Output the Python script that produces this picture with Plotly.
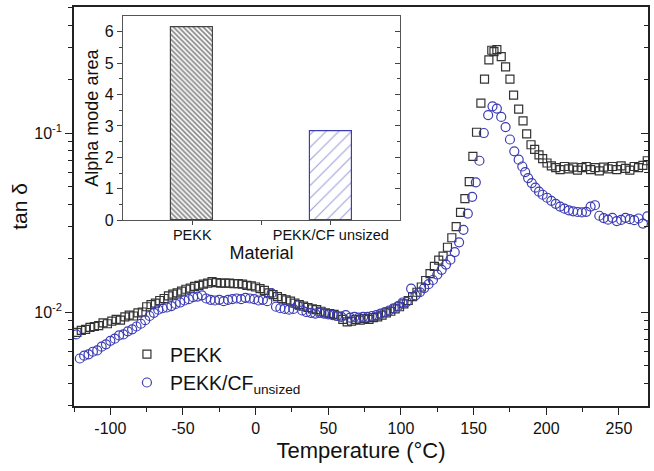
import plotly.graph_objects as go

# ---------------- data ----------------
pekk_temp = [-123, -120, -117, -114, -111, -108, -105, -102, -99, -96, -93, -90, -87, -84, -81, -78,
             -75, -72, -69, -66, -63, -60, -57, -54, -51, -48, -45, -42, -39, -36, -33, -30, -27,
             -24, -21, -18, -15, -12, -9, -6, -3, 0, 3, 6, 9, 12, 15, 18, 21, 24, 27, 30, 33, 36,
             39, 42, 45, 48, 51, 54, 57, 60, 63, 66, 69, 72, 75, 78, 81, 84, 87, 90, 93, 96, 99,
             102, 105, 108, 111, 114, 117, 120, 123, 126, 129, 132, 135, 138, 141, 144, 147,
             149.5, 152, 155, 157.5, 160.5, 162.5, 164, 166, 169, 172, 175, 177.5, 181, 184, 186.5,
             189.5, 192, 195, 197.5, 200.5, 203.5, 206.5, 209.5, 212.5, 215.5, 218.5, 221.5, 224.5,
             227.5, 230.5, 233.5, 236.5, 239.5, 242.5, 245.5, 248.5, 251.5, 254.5, 257.5, 260.5,
             263.5, 266.5, 269.5]
pekk_tan = [0.0077, 0.0079, 0.0080, 0.0082, 0.0083, 0.0084, 0.0087, 0.0086, 0.0089, 0.0091, 0.0090,
            0.0094, 0.0096, 0.0095, 0.0099, 0.0100, 0.0107, 0.0110, 0.0112, 0.0116, 0.0119, 0.0123,
            0.0126, 0.0128, 0.0131, 0.0134, 0.0136, 0.0139, 0.0141, 0.0143, 0.0145, 0.0148, 0.0146,
            0.0145, 0.0145, 0.0145, 0.0144, 0.0144, 0.0143, 0.0141, 0.0140, 0.0138, 0.0135, 0.0132,
            0.0128, 0.0125, 0.0122, 0.0119, 0.0117, 0.0115, 0.0112, 0.0110, 0.0108, 0.0106, 0.0104,
            0.0103, 0.0101, 0.0099, 0.0098, 0.0097, 0.0095, 0.0091, 0.0088, 0.0089, 0.0091, 0.0090,
            0.0092, 0.0091, 0.0093, 0.0094, 0.0096, 0.0099, 0.0101, 0.0104, 0.0107, 0.0111, 0.0116,
            0.0122, 0.0129, 0.0138, 0.0150, 0.0164, 0.0180, 0.0195, 0.0205, 0.0230, 0.0260, 0.0300,
            0.0360, 0.0430, 0.0535,
            0.0740, 0.1010, 0.1470, 0.2000, 0.2560, 0.2900, 0.2850, 0.2920, 0.2670, 0.2340, 0.2000,
            0.1630, 0.1360, 0.1170, 0.0990, 0.0860, 0.0810, 0.0755, 0.0720, 0.0680, 0.0655, 0.0640,
            0.0625, 0.0650, 0.0630, 0.0645, 0.0620, 0.0640, 0.0650, 0.0625, 0.0640, 0.0615, 0.0645,
            0.0630, 0.0650, 0.0625, 0.0655, 0.0635, 0.0620, 0.0650, 0.0640, 0.0660, 0.0700]

cf_temp = [-123.5, -121, -118, -115, -112, -109, -106, -103, -100, -97, -94, -91, -88, -85, -82,
           -79, -76, -73, -70, -67, -64, -61, -58, -55, -52, -49, -46, -43, -40, -37, -34, -31,
           -28, -25, -22, -19, -16, -13, -10, -7, -4, -1, 2, 5, 8, 11, 14, 17, 20, 23, 26, 29, 32,
           35, 38, 41, 44, 47, 50, 53, 56, 59, 62, 65, 68, 71, 74, 77, 80, 83, 86, 89, 92, 95, 98,
           101, 104, 107, 110, 113, 116, 119, 122, 125, 128, 131, 134, 137, 140, 143, 146, 149,
           151.5, 154, 157, 160, 163, 166, 169, 172, 175, 178, 181, 183.5, 185.5, 187.5, 190,
           192.5, 195, 197.5, 200.5, 203.5, 206.5, 209.5, 212.5, 215.5, 218.5, 221.5, 224.5,
           227.5, 230.5, 233.5, 236.5, 239.5, 242.5, 245.5, 248.5, 251.5, 254.5, 257.5, 260.5,
           263.5, 266.5, 269.5]
cf_tan = [0.0075, 0.0055, 0.0057, 0.0058, 0.0060, 0.0061, 0.0064, 0.0066, 0.0069, 0.0071, 0.0074,
          0.0075, 0.0078, 0.0080, 0.0083, 0.0086, 0.0090, 0.0095, 0.0099, 0.0103, 0.0105, 0.0106,
          0.0108, 0.0111, 0.0113, 0.0116, 0.0118, 0.0121, 0.0122, 0.0124, 0.0119, 0.0117, 0.0116,
          0.0117, 0.0115, 0.0117, 0.0118, 0.0119, 0.0118, 0.0120, 0.0119, 0.0118, 0.0116, 0.0117,
          0.0115, 0.0127, 0.0107, 0.0105, 0.0104, 0.0103, 0.0104, 0.0109, 0.0102, 0.0100, 0.0099,
          0.0098, 0.0099, 0.0098, 0.0097, 0.0096, 0.0095, 0.0094, 0.0096, 0.0093, 0.0094, 0.0093,
          0.0094, 0.0094, 0.0095, 0.0096, 0.0098, 0.0100, 0.0102, 0.0105, 0.0108, 0.0113, 0.0114,
          0.0135, 0.0124, 0.0129, 0.0136, 0.0143, 0.0151, 0.0162, 0.0172, 0.0184, 0.0196, 0.0216,
          0.0245, 0.0288, 0.0355, 0.0440, 0.0530, 0.0700, 0.1000, 0.1260, 0.1410, 0.1370, 0.1230,
          0.1080, 0.0920, 0.0790, 0.0710, 0.0650, 0.0605, 0.0560, 0.0525, 0.0495, 0.0470, 0.0452,
          0.0435, 0.0418, 0.0402, 0.0388, 0.0378, 0.0370, 0.0365, 0.0362, 0.0360, 0.0363, 0.0388,
          0.0395, 0.0345, 0.0335, 0.0328, 0.0336, 0.0322, 0.0327, 0.0336, 0.0330, 0.0326, 0.0333,
          0.0312, 0.0342]

materials = ["PEKK", "PEKK/CF unsized"]
alpha_area = [6.14, 2.82]

x_ticks = [-100, -50, 0, 50, 100, 150, 200, 250]
x_tick_text = ["-100", "-50", "0", "50", "100", "150", "200", "250"]
y_major = [0.01, 0.1]
y_major_text = ["10<sup>-2</sup>", "10<sup>-1</sup>"]
y_minor = [0.003, 0.004, 0.005, 0.006, 0.007, 0.008, 0.009,
           0.02, 0.03, 0.04, 0.05, 0.06, 0.07, 0.08, 0.09,
           0.2, 0.3, 0.4, 0.5]

# ---------------- style ----------------
FONT = "Liberation Sans, Arial, sans-serif"
BLUE = "#3c3cb4"
DARK = "#333333"
AX = "#222222"

fig = go.Figure()

fig.add_trace(go.Scatter(
    x=pekk_temp, y=pekk_tan, mode="markers", name="PEKK",
    marker=dict(symbol="square-open", size=8, color=DARK, line=dict(width=1.2, color=DARK)),
    xaxis="x", yaxis="y"))
fig.add_trace(go.Scatter(
    x=cf_temp, y=cf_tan, mode="markers", name="PEKK/CF<sub>unsized</sub>",
    marker=dict(symbol="circle-open", size=9, color=BLUE, line=dict(width=1.2, color=BLUE)),
    xaxis="x", yaxis="y"))

# inset bars
fig.add_trace(go.Bar(
    x=[0], y=[alpha_area[0]], width=0.3, showlegend=False,
    marker=dict(color="white", line=dict(color="#444444", width=1.2),
                pattern=dict(shape="\\", fgcolor="#111111", bgcolor="white", size=3.5, solidity=0.5)),
    xaxis="x2", yaxis="y3"))
fig.add_trace(go.Bar(
    x=[1], y=[alpha_area[1]], width=0.3, showlegend=False,
    marker=dict(color="white", line=dict(color=BLUE, width=1.2),
                pattern=dict(shape="/", fgcolor=BLUE, bgcolor="white", size=9, solidity=0.12)),
    xaxis="x2", yaxis="y3"))

# invisible anchors for right-side tick axes
fig.add_trace(go.Scatter(x=[None], y=[None], showlegend=False, hoverinfo="skip", xaxis="x", yaxis="y2"))
fig.add_trace(go.Scatter(x=[None], y=[None], showlegend=False, hoverinfo="skip", xaxis="x2", yaxis="y4"))

YR = [-2.525, -0.296]
inset_x = [0.0854, 0.568]
inset_y = [0.466, 0.977]

fig.update_layout(
    width=654, height=471,
    margin=dict(l=74, r=6, t=7, b=65, autoexpand=False),
    paper_bgcolor="white", plot_bgcolor="white",
    font=dict(family=FONT, size=16, color="#111111"),
    bargap=0,
    xaxis=dict(
        domain=[0, 1], range=[-125, 270], tickmode="array", tickvals=x_ticks, ticktext=x_tick_text,
        ticks="outside", ticklen=7, tickwidth=1.3, tickcolor=AX,
        minor=dict(tickmode="array", tickvals=[-125, -75, -25, 25, 75, 125, 175, 225],
                   ticks="outside", ticklen=4, tickwidth=1.2, tickcolor=AX),
        showline=True, linecolor=AX, linewidth=1.6, mirror=True,
        showgrid=False, zeroline=False, automargin=False,
        tickfont=dict(size=16),
        title=dict(text="Temperature (°C)", font=dict(size=22), standoff=7)),
    yaxis=dict(
        type="log", range=YR, tickmode="array", tickvals=y_major, ticktext=y_major_text,
        ticks="outside", ticklen=7, tickwidth=1.3, tickcolor=AX,
        minor=dict(tickmode="array", tickvals=y_minor, ticks="outside", ticklen=4,
                   tickwidth=1.2, tickcolor=AX),
        showline=True, linecolor=AX, linewidth=1.6, mirror=True,
        showgrid=False, zeroline=False, automargin=False, tickfont=dict(size=16),
        title=dict(text="tan δ", font=dict(size=21), standoff=1)),
    yaxis2=dict(
        type="log", range=YR, overlaying="y", side="right", anchor="x",
        tickmode="array", tickvals=y_major, showticklabels=False,
        ticks="inside", ticklen=7, tickwidth=1.3, tickcolor=AX,
        minor=dict(tickmode="array", tickvals=y_minor, ticks="inside", ticklen=4,
                   tickwidth=1.2, tickcolor=AX),
        showline=False, showgrid=False, zeroline=False, automargin=False),
    xaxis2=dict(
        domain=inset_x, anchor="y3", range=[-0.5, 1.5], tickmode="array",
        tickvals=[0, 1], ticktext=materials, ticks="outside", ticklen=4, tickwidth=1.2,
        tickcolor="#444444", ticklabelstandoff=-3,
        minor=dict(tickmode="array", tickvals=[0.5], ticks="outside", ticklen=4,
                   tickwidth=1.2, tickcolor="#444444"),
        showline=True, linecolor="#555555", linewidth=1.3, mirror=True,
        showgrid=False, zeroline=False, automargin=False, tickfont=dict(size=14.5),
        title=dict(text="Material", font=dict(size=18), standoff=0)),
    yaxis3=dict(
        domain=inset_y, anchor="x2", range=[0, 6.5], tickmode="array",
        tickvals=[0, 1, 2, 3, 4, 5, 6], ticks="outside", ticklen=5, tickwidth=1.2,
        tickcolor="#444444",
        minor=dict(tickmode="array", tickvals=[0.5, 1.5, 2.5, 3.5, 4.5, 5.5],
                   ticks="outside", ticklen=3, tickwidth=1.1, tickcolor="#444444"),
        showline=True, linecolor="#555555", linewidth=1.3, mirror=True,
        showgrid=False, zeroline=False, automargin=False, tickfont=dict(size=16),
        title=dict(text="Alpha mode area", font=dict(size=18), standoff=1)),
    yaxis4=dict(
        overlaying="y3", side="right", anchor="x2", range=[0, 6.5],
        tickmode="array", tickvals=[0, 1, 2, 3, 4, 5, 6], showticklabels=False,
        ticks="inside", ticklen=5, tickwidth=1.2, tickcolor="#444444",
        minor=dict(tickmode="array", tickvals=[0.5, 1.5, 2.5, 3.5, 4.5, 5.5],
                   ticks="inside", ticklen=3, tickwidth=1.1, tickcolor="#444444"),
        showline=False, showgrid=False, zeroline=False, automargin=False),
    legend=dict(x=0.087, y=0.178, xanchor="left", yanchor="top",
                bgcolor="rgba(0,0,0,0)", font=dict(size=19.5), tracegroupgap=0,
                itemwidth=36),
)

fig.write_html("out.html", config={"displayModeBar": False},
               post_script="document.body.style.margin='0';document.body.style.padding='0';")
